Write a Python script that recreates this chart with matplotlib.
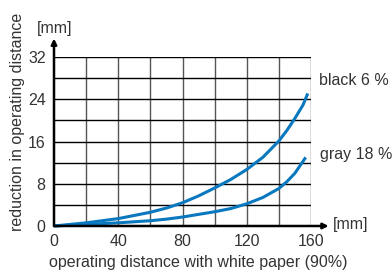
import matplotlib
matplotlib.use("Agg")
import matplotlib.pyplot as plt

plt.rcParams['font.family'] = ['Liberation Sans', 'DejaVu Sans']

x_black = [0, 10, 20, 30, 40, 50, 60, 70, 80, 90, 100, 110, 120, 130, 140, 145, 150, 155, 158]
y_black = [0, 0.3, 0.6, 1.0, 1.4, 2.0, 2.6, 3.4, 4.4, 5.7, 7.2, 8.8, 10.7, 13.0, 16.1, 18.1, 20.4, 22.9, 25.1]
x_gray = [0, 20, 40, 60, 70, 80, 90, 100, 110, 120, 130, 140, 145, 150, 156.7]
y_gray = [0, 0.3, 0.6, 1.0, 1.3, 1.7, 2.2, 2.7, 3.3, 4.2, 5.4, 7.1, 8.4, 10.0, 13.0]
x_ticks = [0, 40, 80, 120, 160]
y_ticks = [0, 8, 16, 24, 32]
series_labels = ["black 6 %", "gray 18 %"]

txt = '#333333'
blue = '#0a78be'
fs = 11.5

fig = plt.figure(figsize=(3.92, 2.72), dpi=100)
ax = fig.add_axes([54/392, 46/272, 257/392, 169/272])
ax.set_xlim(0, 160)
ax.set_ylim(0, 32)

for gx in range(20, 161, 20):
    ax.axvline(gx, color='#555555', lw=1.0, zorder=1)
for gy in range(4, 33, 4):
    ax.axhline(gy, color='black', lw=1.0, zorder=1)

ax.plot(x_black, y_black, color=blue, lw=2.2, solid_capstyle='butt', solid_joinstyle='round', zorder=3, clip_on=False)
ax.plot(x_gray, y_gray, color=blue, lw=2.2, solid_capstyle='butt', solid_joinstyle='round', zorder=3, clip_on=False)

for s in ['top', 'right', 'left', 'bottom']:
    ax.spines[s].set_visible(False)

ax.annotate('', xy=(0, 35.5), xytext=(0, 0), xycoords='data',
            arrowprops=dict(arrowstyle='-|>', color='black', lw=1.8, mutation_scale=8, shrinkA=0, shrinkB=0),
            annotation_clip=False, zorder=4)
ax.annotate('', xy=(171, 0), xytext=(0, 0), xycoords='data',
            arrowprops=dict(arrowstyle='-|>', color='black', lw=1.8, mutation_scale=8, shrinkA=0, shrinkB=0),
            annotation_clip=False, zorder=4)

ax.set_xticks(x_ticks)
ax.set_yticks(y_ticks)
ax.tick_params(length=0, labelsize=fs, labelcolor=txt, pad=6)
ax.set_xticklabels([str(v) for v in x_ticks])
ax.set_yticklabels([str(v) for v in y_ticks])

fig.text(55/392, 1 - 29/272, '[mm]', ha='center', va='center', fontsize=fs, color=txt)
fig.text(351/392, 1 - 225/272, '[mm]', ha='center', va='center', fontsize=fs, color=txt)
fig.text(319/392, 1 - 80/272, series_labels[0], ha='left', va='center', fontsize=fs, color=txt)
fig.text(320/392, 1 - 154/272, series_labels[1], ha='left', va='center', fontsize=fs, color=txt)
fig.text(198/392, 1 - 262/272, 'operating distance with white paper (90%)', ha='center', va='center', fontsize=fs, color=txt)
fig.text(18/392, 1 - 231/272, 'reduction in operating distance', ha='center', va='bottom', rotation=90, fontsize=fs, color=txt)

fig.savefig('out.png', dpi=100)
